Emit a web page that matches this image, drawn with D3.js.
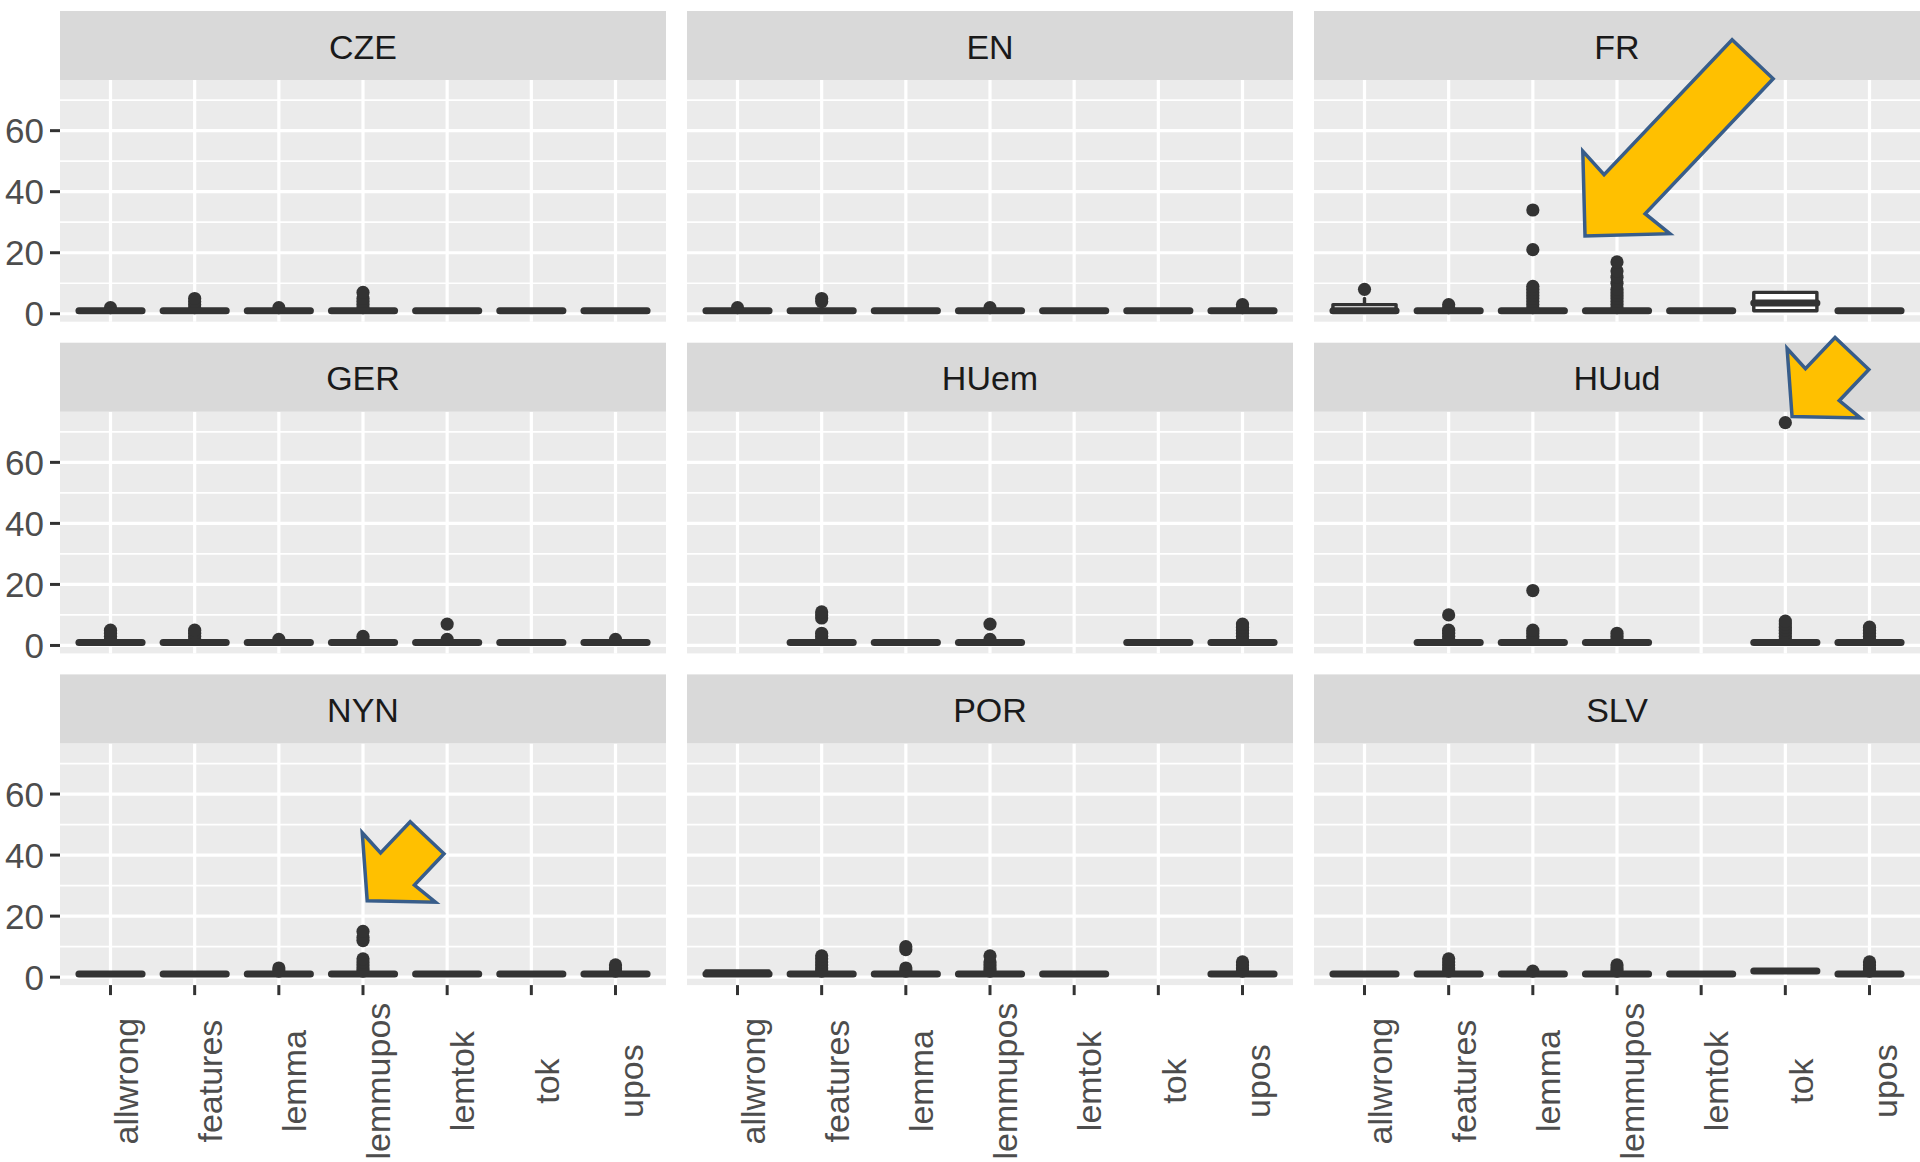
<!DOCTYPE html>
<html>
<head>
<meta charset="utf-8">
<script src="https://cdn.jsdelivr.net/npm/d3@7"></script>
<style>
  body { margin: 0; background: #ffffff; }
  svg { display: block; }
  text { font-family: "Liberation Sans", Arial, sans-serif; }
</style>
</head>
<body>
<svg id="chart" width="1920" height="1162"></svg>
<script>
// Facets (treebanks) and error categories
const panels = ["CZE", "EN", "FR", "GER", "HUem", "HUud", "NYN", "POR", "SLV"];
const categories = ["allwrong", "features", "lemma", "lemmupos", "lemtok", "tok", "upos"];
const yTicks = [0, 20, 40, 60];
const yMinorTicks = [10, 30, 50, 70];

// Box statistics: panel, category, lower whisker, Q1, median, Q3, upper whisker
const boxStats = [
  ["CZE", "allwrong", 1, 1, 1, 1, 1], ["CZE", "features", 1, 1, 1, 1, 1], ["CZE", "lemma", 1, 1, 1, 1, 1],
  ["CZE", "lemmupos", 1, 1, 1, 1, 1], ["CZE", "lemtok", 1, 1, 1, 1, 1], ["CZE", "tok", 1, 1, 1, 1, 1],
  ["CZE", "upos", 1, 1, 1, 1, 1],
  ["EN", "allwrong", 1, 1, 1, 1, 1], ["EN", "features", 1, 1, 1, 1, 1], ["EN", "lemma", 1, 1, 1, 1, 1],
  ["EN", "lemmupos", 1, 1, 1, 1, 1], ["EN", "lemtok", 1, 1, 1, 1, 1], ["EN", "tok", 1, 1, 1, 1, 1],
  ["EN", "upos", 1, 1, 1, 1, 1],
  ["FR", "allwrong", 1, 1, 1, 3, 5], ["FR", "features", 1, 1, 1, 1, 1], ["FR", "lemma", 1, 1, 1, 1, 1],
  ["FR", "lemmupos", 1, 1, 1, 1, 1], ["FR", "lemtok", 1, 1, 1, 1, 1], ["FR", "tok", 1, 1, 3.5, 7, 7],
  ["FR", "upos", 1, 1, 1, 1, 1],
  ["GER", "allwrong", 1, 1, 1, 1, 1], ["GER", "features", 1, 1, 1, 1, 1], ["GER", "lemma", 1, 1, 1, 1, 1],
  ["GER", "lemmupos", 1, 1, 1, 1, 1], ["GER", "lemtok", 1, 1, 1, 1, 1], ["GER", "tok", 1, 1, 1, 1, 1],
  ["GER", "upos", 1, 1, 1, 1, 1],
  ["HUem", "features", 1, 1, 1, 1, 1], ["HUem", "lemma", 1, 1, 1, 1, 1], ["HUem", "lemmupos", 1, 1, 1, 1, 1],
  ["HUem", "tok", 1, 1, 1, 1, 1], ["HUem", "upos", 1, 1, 1, 1, 1],
  ["HUud", "features", 1, 1, 1, 1, 1], ["HUud", "lemma", 1, 1, 1, 1, 1], ["HUud", "lemmupos", 1, 1, 1, 1, 1],
  ["HUud", "tok", 1, 1, 1, 1, 1], ["HUud", "upos", 1, 1, 1, 1, 1],
  ["NYN", "allwrong", 1, 1, 1, 1, 1], ["NYN", "features", 1, 1, 1, 1, 1], ["NYN", "lemma", 1, 1, 1, 1, 1],
  ["NYN", "lemmupos", 1, 1, 1, 1, 1], ["NYN", "lemtok", 1, 1, 1, 1, 1], ["NYN", "tok", 1, 1, 1, 1, 1],
  ["NYN", "upos", 1, 1, 1, 1, 1],
  ["POR", "allwrong", 1, 1, 1, 2, 2], ["POR", "features", 1, 1, 1, 1, 1], ["POR", "lemma", 1, 1, 1, 1, 1],
  ["POR", "lemmupos", 1, 1, 1, 1, 1], ["POR", "lemtok", 1, 1, 1, 1, 1], ["POR", "upos", 1, 1, 1, 1, 1],
  ["SLV", "allwrong", 1, 1, 1, 1, 1], ["SLV", "features", 1, 1, 1, 1, 1], ["SLV", "lemma", 1, 1, 1, 1, 1],
  ["SLV", "lemmupos", 1, 1, 1, 1, 1], ["SLV", "lemtok", 1, 1, 1, 1, 1], ["SLV", "tok", 2, 2, 2, 2, 2],
  ["SLV", "upos", 1, 1, 1, 1, 1]
];

// Outlying values: panel, category, values
const outliers = [
  ["CZE", "allwrong", [2]], ["CZE", "features", [2, 3, 4, 5]], ["CZE", "lemma", [2]],
  ["CZE", "lemmupos", [2, 3, 4, 5, 7]],
  ["EN", "allwrong", [2]], ["EN", "features", [4, 5]], ["EN", "lemmupos", [2]], ["EN", "upos", [2, 3]],
  ["FR", "allwrong", [8]], ["FR", "features", [2, 3]],
  ["FR", "lemma", [2, 3, 4, 5, 6, 7, 8, 9, 21, 34]],
  ["FR", "lemmupos", [2, 3, 4, 5, 6, 7, 8, 10, 12, 14, 17]],
  ["GER", "allwrong", [2, 3, 4, 5]], ["GER", "features", [2, 3, 4, 5]], ["GER", "lemma", [2]],
  ["GER", "lemmupos", [2, 3]], ["GER", "lemtok", [2, 7]], ["GER", "upos", [2]],
  ["HUem", "features", [2, 3, 4, 9, 10, 11]], ["HUem", "lemmupos", [2, 7]],
  ["HUem", "upos", [2, 3, 4, 5, 6, 7]],
  ["HUud", "features", [2, 3, 4, 5, 10]], ["HUud", "lemma", [2, 3, 4, 5, 18]],
  ["HUud", "lemmupos", [2, 3, 4]], ["HUud", "tok", [2, 3, 4, 5, 6, 7, 8, 73]],
  ["HUud", "upos", [2, 3, 4, 5, 6]],
  ["NYN", "lemma", [2, 3]], ["NYN", "lemmupos", [2, 3, 4, 5, 6, 12, 13, 15]], ["NYN", "upos", [2, 3, 4]],
  ["POR", "features", [2, 3, 4, 5, 6, 7]], ["POR", "lemma", [2, 3, 9, 10]],
  ["POR", "lemmupos", [2, 3, 4, 5, 7]], ["POR", "upos", [2, 3, 4, 5]],
  ["SLV", "features", [2, 3, 4, 5, 6]], ["SLV", "lemma", [2]], ["SLV", "lemmupos", [2, 3, 4]],
  ["SLV", "upos", [2, 3, 4, 5]]
];

// Highlight arrows: tip placed at a category (shifted in category steps) and a value
const arrowNotes = [
  { panel: "FR", category: "lemmupos", shift: -0.38, value: 25.5, kind: "large" },
  { panel: "HUud", category: "tok", shift: 0.08, value: 75, kind: "small" },
  { panel: "NYN", category: "lemmupos", shift: 0.05, value: 25, kind: "small" }
];

// ---- layout ----
const nCol = 3;
const panelW = 606, colGap = 21, left0 = 60;
const stripH = 69, panelH = 241.7, rowPitch = 331.7, top0 = 11;
const nRow = Math.ceil(panels.length / nCol);

const svg = d3.select("#chart");

const x = d3.scalePoint().domain(categories).range([0, panelW]).padding(0.6);
const step = x.step();

const allValues = boxStats.flatMap(d => [d[2], d[6]]).concat(outliers.flatMap(d => d[2]));
const [vMin, vMax] = d3.extent(allValues);
const vPad = (vMax - vMin) * 0.05;
const y = d3.scaleLinear().domain([vMin - vPad, vMax + vPad]).range([panelH, 0]);

const dark = "#333333";
const boxLW = 3.4, medianLW = 7, pointR = 6.6;

function panelOrigin(i) {
  const col = i % nCol, row = Math.floor(i / nCol);
  return { col, row, gx: left0 + col * (panelW + colGap), gy: top0 + row * rowPitch + stripH };
}

const panelLayer = svg.append("g");
const arrowLayer = svg.append("g");

panels.forEach((p, i) => {
  const { col, row, gx, gy } = panelOrigin(i);
  const g = panelLayer.append("g").attr("transform", `translate(${gx},${gy})`);

  // background
  g.append("rect").attr("width", panelW).attr("height", panelH).attr("fill", "#EBEBEB");

  // minor grid
  g.selectAll("line.minor").data(yMinorTicks).join("line")
    .attr("x1", 0).attr("x2", panelW)
    .attr("y1", d => y(d)).attr("y2", d => y(d))
    .attr("stroke", "#ffffff").attr("stroke-width", 1.7);

  // major grid
  g.selectAll("line.hmajor").data(yTicks).join("line")
    .attr("x1", 0).attr("x2", panelW)
    .attr("y1", d => y(d)).attr("y2", d => y(d))
    .attr("stroke", "#ffffff").attr("stroke-width", 3.2);
  g.selectAll("line.vmajor").data(categories).join("line")
    .attr("x1", d => x(d)).attr("x2", d => x(d))
    .attr("y1", 0).attr("y2", panelH)
    .attr("stroke", "#ffffff").attr("stroke-width", 3.2);

  // boxplots
  const boxes = boxStats.filter(d => d[0] === p);
  const bw = step * 0.75;
  boxes.forEach(([, cat, lo, q1, med, q3, hi]) => {
    const cx = x(cat);
    const bg = g.append("g");
    const outs = outliers.find(o => o[0] === p && o[1] === cat);
    if (outs) {
      bg.selectAll("circle").data(outs[2]).join("circle")
        .attr("cx", cx).attr("cy", d => y(d)).attr("r", pointR).attr("fill", dark);
    }
    if (hi > q3) {
      bg.append("line").attr("x1", cx).attr("x2", cx).attr("y1", y(q3)).attr("y2", y(hi))
        .attr("stroke", dark).attr("stroke-width", boxLW).attr("stroke-linecap", "round");
    }
    if (lo < q1) {
      bg.append("line").attr("x1", cx).attr("x2", cx).attr("y1", y(q1)).attr("y2", y(lo))
        .attr("stroke", dark).attr("stroke-width", boxLW).attr("stroke-linecap", "round");
    }
    const path = d3.path();
    path.moveTo(cx - bw / 2, y(q3));
    path.lineTo(cx + bw / 2, y(q3));
    path.lineTo(cx + bw / 2, y(q1));
    path.lineTo(cx - bw / 2, y(q1));
    path.closePath();
    bg.append("path").attr("d", path.toString())
      .attr("fill", "#ffffff").attr("stroke", dark).attr("stroke-width", boxLW)
      .attr("stroke-linejoin", "round").attr("stroke-linecap", "round");
    bg.append("line").attr("x1", cx - bw / 2).attr("x2", cx + bw / 2)
      .attr("y1", y(med)).attr("y2", y(med))
      .attr("stroke", dark).attr("stroke-width", medianLW).attr("stroke-linecap", "round");
  });

  // strip
  const strip = g.append("g").attr("transform", `translate(0,${-stripH})`);
  strip.append("rect").attr("width", panelW).attr("height", stripH).attr("fill", "#D9D9D9");
  strip.append("text").attr("x", panelW / 2).attr("y", stripH / 2 + 1).attr("dy", "0.36em")
    .attr("text-anchor", "middle").attr("font-size", 34).attr("fill", "#1A1A1A").text(p);

  // left axis
  if (col === 0) {
    const ax = g.append("g");
    ax.selectAll("line").data(yTicks).join("line")
      .attr("x1", -10).attr("x2", 0).attr("y1", d => y(d)).attr("y2", d => y(d))
      .attr("stroke", dark).attr("stroke-width", 3);
    ax.selectAll("text").data(yTicks).join("text")
      .attr("x", -16).attr("y", d => y(d)).attr("dy", "0.36em")
      .attr("text-anchor", "end").attr("font-size", 35).attr("fill", "#4D4D4D")
      .text(d => d);
  }

  // bottom axis
  if (row === nRow - 1 || i + nCol >= panels.length) {
    const ax = g.append("g").attr("transform", `translate(0,${panelH})`);
    ax.selectAll("line").data(categories).join("line")
      .attr("x1", d => x(d)).attr("x2", d => x(d)).attr("y1", 0).attr("y2", 10)
      .attr("stroke", dark).attr("stroke-width", 3);
    ax.selectAll("text").data(categories).join("text")
      .attr("transform", d => `translate(${x(d)},96) rotate(-90)`)
      .attr("dy", "0.8em").attr("text-anchor", "middle")
      .attr("font-size", 34).attr("fill", "#4D4D4D")
      .text(d => d);
  }
});

// ---- block arrows ----
const arrowShapes = {
  large: { barb: 60, neck: 57.5, halfHead: 60, halfShaft: 28.3, length: 243.5 },
  small: { barb: 46, neck: 44, halfHead: 50.5, halfShaft: 23.3, length: 87 }
};
const arrowAngle = -46.5;

arrowNotes.forEach(a => {
  const i = panels.indexOf(a.panel);
  const { gx, gy } = panelOrigin(i);
  const tipX = gx + x(a.category) + a.shift * step;
  const tipY = gy + y(a.value);
  const s = arrowShapes[a.kind];
  const pts = [
    [0, 0], [s.barb, -s.halfHead], [s.neck, -s.halfShaft], [s.length, -s.halfShaft],
    [s.length, s.halfShaft], [s.neck, s.halfShaft], [s.barb, s.halfHead]
  ];
  arrowLayer.append("path")
    .attr("transform", `translate(${tipX},${tipY}) rotate(${arrowAngle})`)
    .attr("d", d3.line()(pts) + "Z")
    .attr("fill", "#FFC000").attr("stroke", "#385D8A").attr("stroke-width", 3.5)
    .attr("stroke-linejoin", "miter");
});
</script>
</body>
</html>
